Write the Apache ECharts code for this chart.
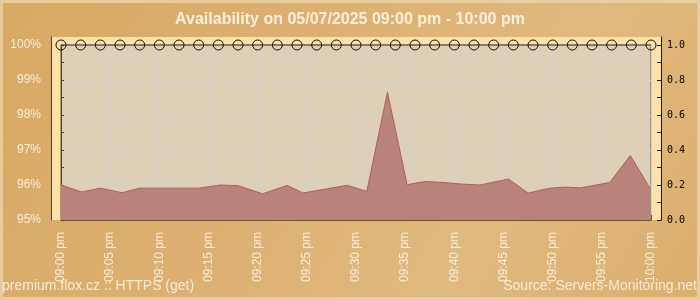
<!DOCTYPE html>
<html>
<head>
<meta charset="utf-8">
<script src="https://cdn.jsdelivr.net/npm/echarts@6/dist/echarts.min.js"></script>
<style>
html,body{margin:0;padding:0;}
#wrap{position:relative;width:700px;height:300px;background:linear-gradient(120deg,#d8a962 0%,#ddb072 40%,#e0b97e 70%,#dcae6c 100%);}
#chart{width:700px;height:300px;}
#frame{position:absolute;left:0;top:0;width:700px;height:300px;box-sizing:border-box;border:3px solid rgba(236,214,176,0.75);pointer-events:none;}
</style>
</head>
<body>
<div id="wrap"><div id="chart"></div><div id="frame"></div></div>
<script>
var titleText = 'Availability on 05/07/2025 09:00 pm - 10:00 pm';
var footerLeft = 'premium.flox.cz :: HTTPS (get)';
var footerRight = 'Source: Servers-Monitoring.net';

var xLabels = ['09:00 pm','09:05 pm','09:10 pm','09:15 pm','09:20 pm','09:25 pm','09:30 pm',
               '09:35 pm','09:40 pm','09:45 pm','09:50 pm','09:55 pm','10:00 pm'];

// minutes after 09:00 pm and availability (%)
var availMinutes = [0, 2.1, 4.0, 6.2, 8.0, 10, 12, 14, 16.2, 18, 20.5, 23, 24.6, 26.8, 29.1, 31.1,
                    33.2, 35.2, 37, 39, 40.6, 42.6, 45.5, 47.5, 49.7, 51.3, 52.8, 55.8, 57.9, 59.9];
var availValues  = [96.0, 95.80, 95.91, 95.78, 95.91, 95.91, 95.91, 95.91, 96.0, 95.98, 95.75, 95.99, 95.77, 95.88, 95.99, 95.82,
                    98.65, 96.01, 96.10, 96.07, 96.03, 96.0, 96.17, 95.77, 95.91, 95.94, 95.92, 96.07, 96.84, 95.91];

// status check points (right axis)
var statusMinutes = [0,2,4,6,8,10,12,14,16,18,20,22,24,26,28,30,32,34,36,38,40,42,44,46,48,50,52,54,56,58,60];
var statusValues  = [1,1,1,1,1,1,1,1,1,1,1,1,1,1,1,1,1,1,1,1,1,1,1,1,1,1,1,1,1,1,1];

var availData = availMinutes.map(function(m,i){return [m, availValues[i]];});
var statusData = statusMinutes.map(function(m,i){return [m, statusValues[i]];});

var chart = echarts.init(document.getElementById('chart'), null, {renderer:'canvas'});
var olive = '#5f5a30';
var option = {
  backgroundColor: 'transparent',
  animation: false,
  title: [
    {text: titleText, left: 'center', top: 12, padding: 0,
     textStyle: {color: '#fbf0dd', fontSize: 16, fontWeight: 'bold', fontFamily: 'Liberation Sans, Arial, sans-serif'}},
    {text: footerLeft, left: 2, top: 279, padding: 0,
     textStyle: {color: 'rgba(250,242,230,0.9)', fontSize: 14, fontWeight: 'normal', fontFamily: 'Liberation Sans, Arial, sans-serif'}},
    {text: footerRight, right: 3, top: 279, padding: 0,
     textStyle: {color: 'rgba(250,242,230,0.9)', fontSize: 14, fontWeight: 'normal', fontFamily: 'Liberation Sans, Arial, sans-serif'}}
  ],
  grid: [
    {left: 51, right: 39, top: 37, bottom: 80, show: true, backgroundColor: '#ffe0a8', borderWidth: 0},
    {left: 61, right: 49, top: 45, bottom: 80, show: true, backgroundColor: '#ded0b6', borderColor: olive, borderWidth: 1}
  ],
  xAxis: [
    {gridIndex: 0, type: 'value', min: 0, max: 1, show: false},
    {gridIndex: 1, type: 'value', min: 0, max: 60, interval: 5,
     axisLine: {show: true, lineStyle: {color: olive}},
     axisTick: {show: true, inside: true, length: 5, lineStyle: {color: olive}},
     minorTick: {show: true, splitNumber: 5, length: 3, lineStyle: {color: olive}},
     splitLine: {show: true, lineStyle: {color: '#d2d0d3', width: 1}},
     axisLabel: {rotate: 90, margin: 12, color: '#f7eee0', fontSize: 12, fontFamily: 'Liberation Sans, Arial, sans-serif',
                 formatter: function(v){ return xLabels[Math.round(v/5)]; }}}
  ],
  yAxis: [
    {gridIndex: 0, type: 'value', min: 0, max: 1, position: 'left',
     axisLine: {show: true, lineStyle: {color: '#4e4422'}}, axisTick: {show: false}, axisLabel: {show: false}, splitLine: {show: false}},
    {gridIndex: 0, type: 'value', min: 0, max: 1, position: 'right',
     axisLine: {show: true, lineStyle: {color: '#1a1a10'}}, axisTick: {show: false}, axisLabel: {show: false}, splitLine: {show: false}},
    {gridIndex: 1, type: 'value', min: 95, max: 100, interval: 1, position: 'left', offset: 10,
     axisLine: {show: true, lineStyle: {color: '#4e4422'}},
     axisTick: {show: true, inside: true, length: 3, lineStyle: {color: '#4e4422'}},
     minorTick: {show: true, splitNumber: 2, length: 3, lineStyle: {color: '#4e4422'}},
     splitLine: {show: true, lineStyle: {color: '#d2d0d3', width: 1}},
     axisLabel: {margin: 10, color: '#f7eee0', fontSize: 12, fontFamily: 'Liberation Sans, Arial, sans-serif', formatter: '{value}%'}},
    {gridIndex: 1, type: 'value', min: 0, max: 1, interval: 0.2, position: 'right', offset: 10,
     axisLine: {show: true, lineStyle: {color: '#1a1a10'}},
     axisTick: {show: true, inside: true, length: 4, lineStyle: {color: '#1a1a10'}},
     minorTick: {show: true, splitNumber: 2, length: 4, lineStyle: {color: '#1a1a10'}},
     splitLine: {show: false},
     axisLabel: {margin: 6, color: '#000', fontSize: 10, fontFamily: 'DejaVu Sans Mono, monospace',
                 formatter: function(v){ return v.toFixed(1); }}}
  ],
  series: [
    {type: 'line', xAxisIndex: 1, yAxisIndex: 2, data: availData, symbol: 'none', smooth: false,
     lineStyle: {color: '#b05e5a', width: 1}, areaStyle: {color: '#b9827a', opacity: 1, origin: 'start'}, z: 3},
    {type: 'line', xAxisIndex: 1, yAxisIndex: 3, data: statusData, symbol: 'circle', symbolSize: 10,
     lineStyle: {color: '#222', width: 1},
     itemStyle: {color: 'rgba(0,0,0,0)', borderColor: '#111', borderWidth: 1}, z: 4}
  ]
};
chart.setOption(option);
</script>
</body>
</html>
